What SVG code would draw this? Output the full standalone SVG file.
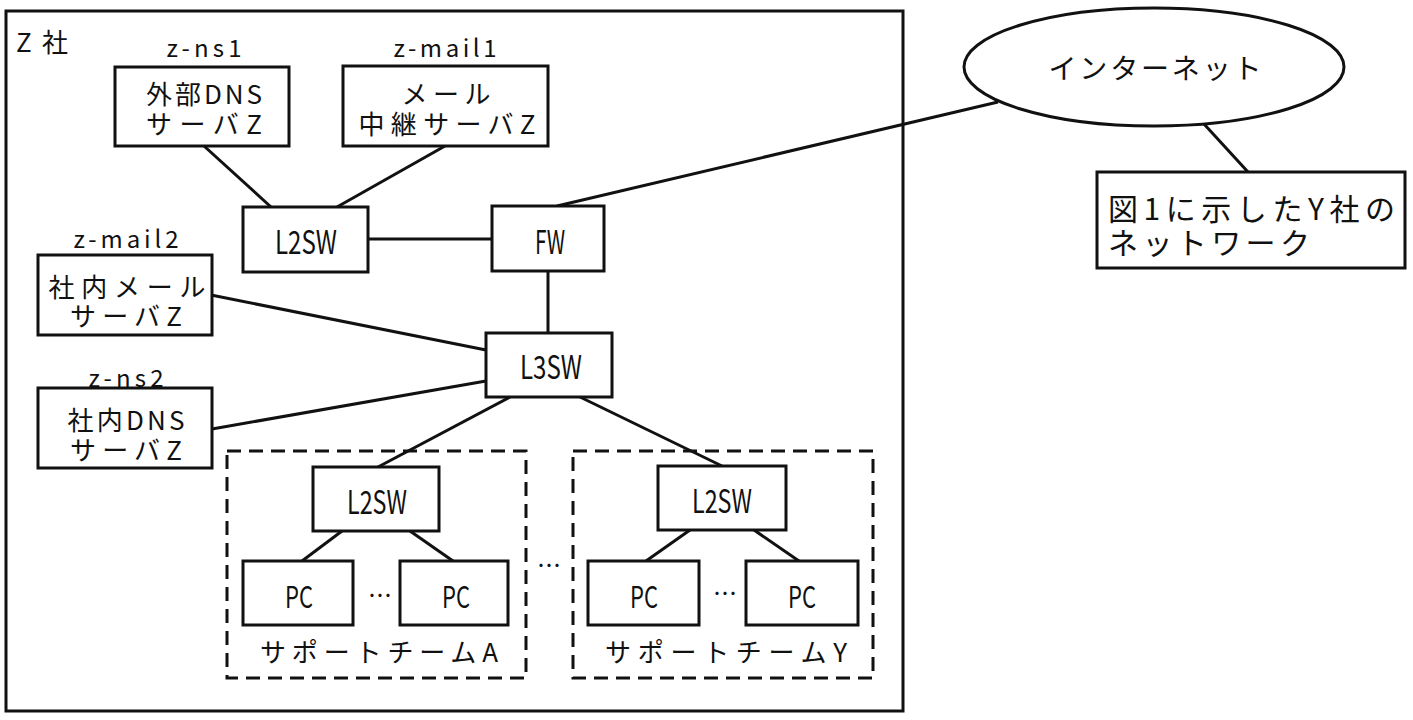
<svg xmlns="http://www.w3.org/2000/svg" width="1413" height="720" viewBox="0 0 1413 720">
<style>
text { font-family: "Noto Sans CJK JP", "Noto Sans", sans-serif; fill: #111; dominant-baseline: central; text-anchor: middle; }
.box { fill: #fff; stroke: #111; stroke-width: 3; }
.frame { fill: none; stroke: #111; stroke-width: 3; }
.dash { fill: none; stroke: #111; stroke-width: 3; stroke-dasharray: 14 8; }
.ln { stroke: #111; stroke-width: 3; fill: none; }
.j { font-size: 26px; }
.lab { font-size: 24px; }
.sw { font-size: 32px; }
.pc { font-size: 30px; }
.big { font-size: 30px; }
</style>
<rect x="0" y="0" width="1413" height="720" fill="#fff"/>

<g id="company-z">
  <rect class="frame" x="6" y="11" width="897" height="700"/>
  <text class="j" x="16" y="40" style="text-anchor:start" textLength="52" lengthAdjust="spacing">Z社</text>
</g>

<g id="connectors">
  <line class="ln" x1="204" y1="146" x2="271" y2="207"/>
  <line class="ln" x1="445" y1="146" x2="337" y2="207"/>
  <line class="ln" x1="368" y1="239" x2="492" y2="239"/>
  <line class="ln" x1="557" y1="206" x2="998" y2="102"/>
  <line class="ln" x1="1204" y1="124" x2="1248" y2="172"/>
  <line class="ln" x1="548" y1="271" x2="548" y2="333"/>
  <line class="ln" x1="211" y1="295" x2="486" y2="350"/>
  <line class="ln" x1="212" y1="429" x2="486" y2="381"/>
  <line class="ln" x1="510" y1="397" x2="378" y2="467"/>
  <line class="ln" x1="580" y1="397" x2="722" y2="466"/>
  <line class="ln" x1="342" y1="531" x2="302" y2="561"/>
  <line class="ln" x1="410" y1="531" x2="453" y2="561"/>
  <line class="ln" x1="690" y1="530" x2="646" y2="561"/>
  <line class="ln" x1="754" y1="530" x2="799" y2="561"/>
</g>

<g id="z-ns1">
  <text class="lab" x="204" y="46" textLength="75" lengthAdjust="spacing">z-ns1</text>
  <rect class="box" x="115" y="67" width="174" height="79"/>
  <text class="j" x="204" y="92" textLength="116" lengthAdjust="spacing">外部DNS</text>
  <text class="j" x="204" y="122" textLength="116" lengthAdjust="spacing">サーバZ</text>
</g>

<g id="z-mail1">
  <text class="lab" x="445" y="46" textLength="103" lengthAdjust="spacing">z-mail1</text>
  <rect class="box" x="343" y="66" width="205" height="80"/>
  <text class="j" x="446" y="92" textLength="89" lengthAdjust="spacing">メール</text>
  <text class="j" x="447" y="122" textLength="177" lengthAdjust="spacing">中継サーバZ</text>
</g>

<g id="l2sw-top">
  <rect class="box" x="243" y="207" width="125" height="65"/>
  <text class="sw" x="306" y="240" textLength="62" lengthAdjust="spacingAndGlyphs">L2SW</text>
</g>

<g id="fw">
  <rect class="box" x="492" y="206" width="112" height="65"/>
  <text class="sw" x="550" y="240" textLength="30" lengthAdjust="spacingAndGlyphs">FW</text>
</g>

<g id="l3sw">
  <rect class="box" x="486" y="333" width="126" height="64"/>
  <text class="sw" x="551" y="365" textLength="62" lengthAdjust="spacingAndGlyphs">L3SW</text>
</g>

<g id="z-mail2">
  <text class="lab" x="126" y="237" textLength="105" lengthAdjust="spacing">z-mail2</text>
  <rect class="box" x="38" y="255" width="174" height="80"/>
  <text class="j" x="127" y="285" textLength="157" lengthAdjust="spacing">社内メール</text>
  <text class="j" x="126" y="314" textLength="112" lengthAdjust="spacing">サーバZ</text>
</g>

<g id="z-ns2">
  <text class="lab" x="126" y="376" textLength="75" lengthAdjust="spacing">z-ns2</text>
  <rect class="box" x="38" y="388" width="174" height="80"/>
  <text class="j" x="126" y="418" textLength="117" lengthAdjust="spacing">社内DNS</text>
  <text class="j" x="126" y="448" textLength="112" lengthAdjust="spacing">サーバZ</text>
</g>

<g id="support-team-a">
  <rect class="dash" x="227" y="451" width="299" height="227"/>
  <text class="j" x="379" y="650" textLength="238" lengthAdjust="spacing">サポートチームA</text>
  <text class="lab" x="380" y="593">…</text>
</g>

<g id="l2sw-a">
  <rect class="box" x="313" y="467" width="126" height="64"/>
  <text class="sw" x="377" y="500" textLength="60" lengthAdjust="spacingAndGlyphs">L2SW</text>
</g>
<g id="pc-a1">
  <rect class="box" x="243" y="561" width="110" height="64"/>
  <text class="pc" x="299" y="595" textLength="28" lengthAdjust="spacingAndGlyphs">PC</text>
</g>
<g id="pc-a2">
  <rect class="box" x="400" y="561" width="108" height="64"/>
  <text class="pc" x="456" y="595" textLength="28" lengthAdjust="spacingAndGlyphs">PC</text>
</g>

<g id="team-gap">
  <text class="lab" x="549" y="563">…</text>
</g>

<g id="support-team-y">
  <rect class="dash" x="573" y="451" width="300" height="227"/>
  <text class="j" x="726" y="650" textLength="242" lengthAdjust="spacing">サポートチームY</text>
  <text class="lab" x="725" y="591">…</text>
</g>

<g id="l2sw-y">
  <rect class="box" x="658" y="466" width="128" height="64"/>
  <text class="sw" x="722" y="499" textLength="60" lengthAdjust="spacingAndGlyphs">L2SW</text>
</g>
<g id="pc-y1">
  <rect class="box" x="588" y="561" width="111" height="64"/>
  <text class="pc" x="644" y="595" textLength="28" lengthAdjust="spacingAndGlyphs">PC</text>
</g>
<g id="pc-y2">
  <rect class="box" x="746" y="561" width="112" height="64"/>
  <text class="pc" x="802" y="595" textLength="28" lengthAdjust="spacingAndGlyphs">PC</text>
</g>

<g id="internet">
  <ellipse class="box" cx="1154" cy="67" rx="190" ry="59"/>
  <text class="j" x="1155" y="67" style="font-size:28px" textLength="213" lengthAdjust="spacing">インターネット</text>
</g>

<g id="company-y-network">
  <rect class="box" x="1097" y="172" width="308" height="96"/>
  <text class="big" x="1108" y="207" style="text-anchor:start" textLength="287" lengthAdjust="spacing">図1に示したY社の</text>
  <text class="big" x="1108" y="241" style="text-anchor:start" textLength="202" lengthAdjust="spacing">ネットワーク</text>
</g>
</svg>
